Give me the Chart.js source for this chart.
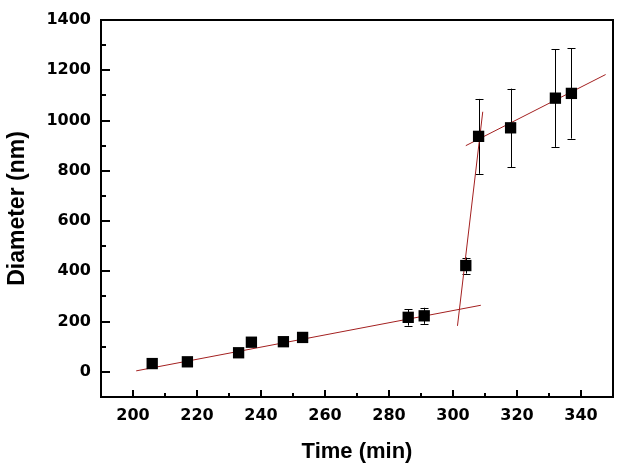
<!DOCTYPE html>
<html><head><meta charset="utf-8">
<script src="https://cdn.jsdelivr.net/npm/chart.js@4/dist/chart.umd.min.js"></script>
<style>html,body{margin:0;padding:0;background:#fff}</style>
</head><body>
<canvas id="c" width="621" height="472"></canvas>
<script>
// ---- data ----
const timeMin     = [206, 217, 233, 237, 247, 253, 286, 291, 304, 308, 318, 332, 337];
const diameterNm  = [33, 40, 76, 118, 120, 137, 217, 223, 423, 937, 971, 1089, 1108];
const errorNm     = [0, 0, 0, 0, 0, 0, 33, 32, 32, 149, 156, 194, 180];

const fitSlowX  = [201, 308.7];   const fitSlowY  = [4, 265];
const fitJumpX  = [301.4, 309.3]; const fitJumpY  = [183, 1035];
const fitLateX  = [304.0, 347.7]; const fitLateY  = [900, 1183];

const xTickValues = [200, 220, 240, 260, 280, 300, 320, 340];
const yTickValues = [0, 200, 400, 600, 800, 1000, 1200, 1400];
const xRange = [190, 350];
const yRange = [-100, 1400];

const toPts = (xs, ys) => xs.map((v, i) => ({x: v, y: ys[i]}));
const FIT_COLOR = '#a32020';

const framePlugin = {
  id: 'frame',
  beforeDatasetsDraw(chart) {
    const {ctx, scales: {x, y}} = chart;
    ctx.save();
    ctx.strokeStyle = '#000';
    ctx.lineWidth = 1;
    timeMin.forEach((t, i) => {
      const e = errorNm[i];
      if (!e) return;
      const px = Math.round(x.getPixelForValue(t)) + 0.5;
      const y1 = y.getPixelForValue(diameterNm[i] - e);
      const y2 = y.getPixelForValue(diameterNm[i] + e);
      ctx.beginPath();
      ctx.moveTo(px, y1); ctx.lineTo(px, y2);
      ctx.moveTo(px - 4, Math.round(y1) + 0.5); ctx.lineTo(px + 4, Math.round(y1) + 0.5);
      ctx.moveTo(px - 4, Math.round(y2) + 0.5); ctx.lineTo(px + 4, Math.round(y2) + 0.5);
      ctx.stroke();
    });
    ctx.restore();
  },
  afterDraw(chart) {
    const {ctx, chartArea: a, scales: {x, y}} = chart;
    ctx.save();
    ctx.strokeStyle = '#000';
    ctx.lineWidth = 2;
    ctx.strokeRect(a.left, a.top, a.right - a.left, a.bottom - a.top);
    ctx.beginPath();
    for (let v = xRange[0] + 10; v < xRange[1]; v += 10) {
      const px = Math.round(x.getPixelForValue(v));
      const len = (v % 20 === 0) ? 7 : 4;
      ctx.moveTo(px, a.bottom); ctx.lineTo(px, a.bottom - len);
    }
    for (let v = yRange[0] + 100; v < yRange[1]; v += 100) {
      const py = Math.round(y.getPixelForValue(v));
      const len = (v % 200 === 0) ? 9 : 5;
      ctx.moveTo(a.left, py); ctx.lineTo(a.left + len, py);
    }
    ctx.stroke();
    ctx.restore();
  }
};

const fitDs = (xs, ys) => ({
  data: toPts(xs, ys), showLine: true, borderColor: FIT_COLOR, borderWidth: 1,
  pointRadius: 0, fill: false, order: 2
});

const tickFont = {family: 'DejaVu Sans', weight: 'bold', size: 16};

new Chart(document.getElementById('c'), {
  type: 'scatter',
  data: {
    datasets: [
      {
        data: toPts(timeMin, diameterNm),
        pointStyle: 'rect', pointRadius: 8, pointBorderWidth: 0,
        backgroundColor: '#000', borderColor: '#000', order: 1
      },
      fitDs(fitSlowX, fitSlowY),
      fitDs(fitJumpX, fitJumpY),
      fitDs(fitLateX, fitLateY)
    ]
  },
  options: {
    responsive: false,
    animation: false,
    layout: {padding: {top: 20, right: 8, left: 0, bottom: 0}},
    plugins: {legend: {display: false}, tooltip: {enabled: false}},
    scales: {
      x: {
        type: 'linear', min: xRange[0], max: xRange[1],
        grid: {display: false, drawTicks: false},
        border: {display: false},
        afterBuildTicks: s => { s.ticks = xTickValues.map(v => ({value: v})); },
        afterFit: s => { s.height = 75; },
        ticks: {color: '#000', padding: 9, font: tickFont, callback: v => String(v)},
        title: {display: true, text: 'Time (min)', color: '#000', padding: {top: 0, bottom: 7},
                font: {family: 'Liberation Sans', weight: 'bold', size: 22}}
      },
      y: {
        type: 'linear', min: yRange[0], max: yRange[1],
        grid: {display: false, drawTicks: false},
        border: {display: false},
        afterBuildTicks: s => { s.ticks = yTickValues.map(v => ({value: v})); },
        afterFit: s => { s.width = 101; },
        ticks: {color: '#000', padding: 10, font: tickFont, callback: v => String(v)},
        title: {display: true, text: 'Diameter (nm)', color: '#000', padding: {top: 4, bottom: 0},
                font: {family: 'Liberation Sans', weight: 'bold', size: 23}}
      }
    }
  },
  plugins: [framePlugin]
});
</script>
</body></html>
